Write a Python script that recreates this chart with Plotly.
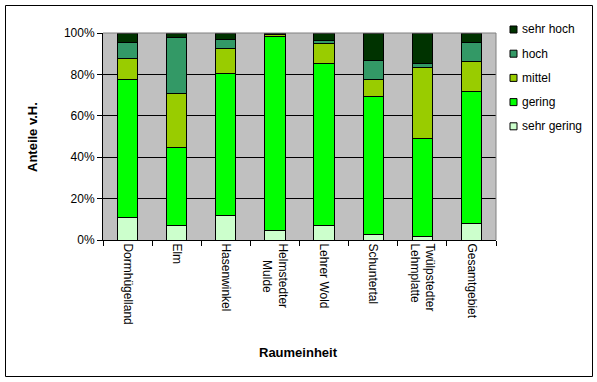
import plotly.graph_objects as go

categories = ["Dormhügelland", "Elm", "Hasenwinkel", "Helmstedter<br>\u00a0\u00a0\u00a0\u00a0\u00a0Mulde", "Lehrer Wold",
              "Schuntertal", "Twülpstedter<br>Lehmplatte", "Gesamtgebiet"]
sehr_gering = [11.0, 7.1, 11.9, 4.7, 7.1, 2.7, 1.8, 8.1]
gering = [66.7, 37.7, 68.3, 93.4, 78.4, 66.8, 47.1, 63.8]
mittel = [10.2, 26.2, 12.5, 1.1, 9.2, 7.8, 34.6, 14.1]
hoch = [7.3, 26.6, 4.4, 0.2, 1.8, 9.6, 1.7, 9.6]
sehr_hoch = [4.8, 2.4, 2.9, 0.6, 3.5, 13.1, 14.8, 4.4]
y_ticks = [0, 20, 40, 60, 80, 100]
y_tick_labels = ["0%", "20%", "40%", "60%", "80%", "100%"]

series = [
    ("sehr gering", sehr_gering, "#CCFFCC"),
    ("gering", gering, "#00FF00"),
    ("mittel", mittel, "#99CC00"),
    ("hoch", hoch, "#339966"),
    ("sehr hoch", sehr_hoch, "#003300"),
]

FONT = "Arial, Liberation Sans, sans-serif"

fig = go.Figure()
for name, vals, col in series:
    fig.add_trace(go.Bar(
        x=categories, y=vals, name=name, showlegend=False,
        marker=dict(color=col, line=dict(color="black", width=1)),
    ))

W, H = 597, 382
L, R, T, B = 103, 496, 33, 240
pw, ph = R - L, B - T

def px(x):
    return (x - L) / pw

def py(y):
    return (B - y) / ph

shapes = [
    dict(type="line", xref="paper", yref="paper", x0=0, x1=1, y0=1, y1=1,
         line=dict(color="#808080", width=1), layer="above"),
    dict(type="line", xref="paper", yref="paper", x0=1, x1=1, y0=0, y1=1,
         line=dict(color="#808080", width=1), layer="above"),
    dict(type="rect", xref="paper", yref="paper",
         x0=px(5.5), x1=px(592.5), y0=py(376.5), y1=py(5.5),
         line=dict(color="black", width=1), layer="below"),
]
annotations = [
    dict(text="<b>Anteile v.H.</b>", xref="paper", yref="paper",
         x=px(32), y=py(137), textangle=-90, showarrow=False,
         font=dict(size=13), xanchor="center", yanchor="middle"),
    dict(text="<b>Raumeinheit</b>", xref="paper", yref="paper",
         x=px(298), y=py(352), showarrow=False,
         font=dict(size=13), xanchor="center", yanchor="middle"),
]

# manual legend (top item = last series)
for i, (name, vals, col) in enumerate(reversed(series)):
    cy = 29.5 + i * 24.2
    shapes.append(dict(type="rect", xref="paper", yref="paper",
                       x0=px(510), x1=px(517), y0=py(cy + 3.5), y1=py(cy - 3.5),
                       fillcolor=col, line=dict(color="black", width=1), layer="above"))
    annotations.append(dict(text=name, xref="paper", yref="paper",
                            x=px(520), y=py(cy), xanchor="left", yanchor="middle",
                            showarrow=False, font=dict(size=12)))

fig.update_layout(
    width=W, height=H,
    margin=dict(l=L, r=W - R, t=T, b=H - B, autoexpand=False),
    barmode="stack", bargap=0.59,
    plot_bgcolor="#C0C0C0", paper_bgcolor="white",
    font=dict(family=FONT, size=12, color="black"),
    showlegend=False,
    xaxis=dict(
        type="category", tickangle=90, ticks="outside", ticklen=5,
        tickcolor="black", tickson="boundaries", showgrid=False,
        showline=True, linecolor="black", linewidth=1,
        tickfont=dict(size=12), automargin=False,
    ),
    yaxis=dict(
        range=[0, 100], tickmode="array", tickvals=y_ticks, ticktext=y_tick_labels,
        ticks="outside", ticklen=5, tickcolor="black",
        showgrid=True, gridcolor="black", gridwidth=1,
        showline=True, linecolor="black", linewidth=1, zeroline=False,
        tickfont=dict(size=12), automargin=False,
    ),
    shapes=shapes,
    annotations=annotations,
)

fig.write_html("out.html", config={"displayModeBar": False},
               post_script="document.body.style.margin='0';")
